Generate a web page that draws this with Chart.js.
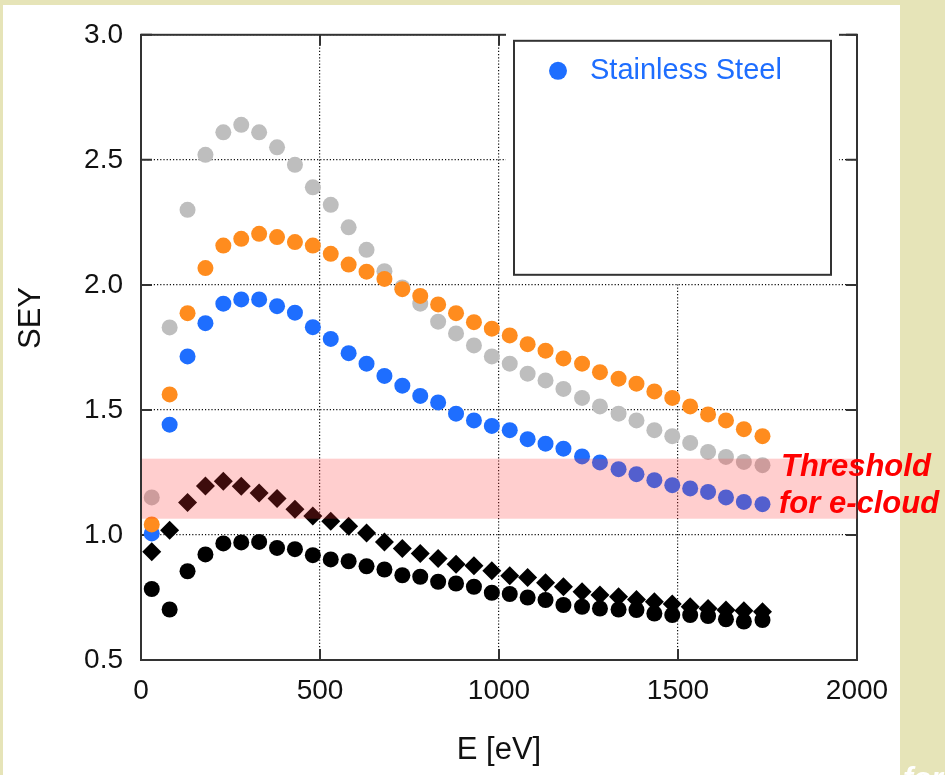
<!DOCTYPE html>
<html>
<head>
<meta charset="utf-8">
<title>SEY vs E</title>
<script src="https://cdn.jsdelivr.net/npm/chart.js@4.4.1/dist/chart.umd.min.js"></script>
<style>
  html, body { margin: 0; padding: 0; background: #e6e4b8; }
  #wrap { position: relative; width: 945px; height: 775px; overflow: hidden; }
  canvas { display: block; }
</style>
</head>
<body>
<div id="wrap"><canvas id="sey" width="945" height="775"></canvas></div>
<script>
/* ── Data ─────────────────────────────────────────── */
const energies = [30, 80, 130, 180, 230, 280, 330, 380, 430, 480, 530, 580, 630, 680, 730,
                  780, 830, 880, 930, 980, 1030, 1080, 1130, 1180, 1232, 1282, 1334, 1384,
                  1434, 1484, 1534, 1584, 1634, 1684, 1736];

const greySey = [1.15, 1.83, 2.30, 2.52, 2.61, 2.64, 2.61, 2.55, 2.48, 2.39, 2.32, 2.23, 2.14,
                 2.055, 1.99, 1.925, 1.853, 1.806, 1.758, 1.714, 1.685, 1.645, 1.618, 1.584,
                 1.548, 1.514, 1.485, 1.458, 1.419, 1.395, 1.368, 1.332, 1.312, 1.292, 1.279];

const orangeSey = [1.042, 1.562, 1.887, 2.067, 2.157, 2.184, 2.204, 2.191, 2.171, 2.157, 2.124,
                   2.081, 2.053, 2.024, 1.983, 1.956, 1.922, 1.887, 1.851, 1.825, 1.798, 1.763,
                   1.737, 1.706, 1.685, 1.651, 1.625, 1.605, 1.574, 1.548, 1.514, 1.482, 1.458,
                   1.423, 1.395];

const blueSey = [1.006, 1.441, 1.714, 1.847, 1.925, 1.942, 1.942, 1.915, 1.889, 1.831, 1.784,
                 1.727, 1.685, 1.636, 1.597, 1.556, 1.530, 1.485, 1.458, 1.436, 1.419, 1.383,
                 1.365, 1.345, 1.314, 1.290, 1.263, 1.243, 1.219, 1.199, 1.186, 1.172, 1.150,
                 1.132, 1.123];

const diamondSey = [0.933, 1.019, 1.130, 1.196, 1.215, 1.195, 1.168, 1.146, 1.103, 1.076, 1.055,
                    1.035, 1.008, 0.972, 0.946, 0.926, 0.906, 0.883, 0.877, 0.857, 0.837, 0.830,
                    0.809, 0.793, 0.773, 0.760, 0.753, 0.742, 0.733, 0.724, 0.713, 0.706, 0.700,
                    0.697, 0.693];

const blackSey = [0.784, 0.702, 0.855, 0.922, 0.966, 0.970, 0.972, 0.948, 0.943, 0.919, 0.902,
                  0.895, 0.875, 0.862, 0.839, 0.833, 0.813, 0.806, 0.793, 0.769, 0.764, 0.750,
                  0.740, 0.720, 0.713, 0.706, 0.702, 0.700, 0.686, 0.680, 0.680, 0.676, 0.663,
                  0.654, 0.660];

/* ── Axis + annotation values ─────────────────────── */
const xTicks = [0, 500, 1000, 1500, 2000];
const yTicks = [0.5, 1.0, 1.5, 2.0, 2.5, 3.0];
const bandLow = 1.065;
const bandHigh = 1.305;
const legendLabel = 'Stainless Steel';
const thresholdLines = ['Threshold', 'for e-cloud'];

const FONT = "'Liberation Sans', Arial, sans-serif";
const BLUE = '#1e6eff';

const pts = ys => energies.map((e, i) => ({ x: e, y: ys[i] }));

/* ── Decorations drawn around the datasets ────────── */
const decor = {
  id: 'decor',
  beforeDraw(chart) {
    const ctx = chart.ctx;
    ctx.save();
    ctx.fillStyle = '#e6e4b8';
    ctx.fillRect(0, 0, chart.width, chart.height);
    ctx.fillStyle = '#ffffff';
    ctx.fillRect(3, 5, 897, chart.height);
    ctx.restore();
  },
  beforeDatasetsDraw(chart) {
    const { ctx, chartArea: a, scales: { x, y } } = chart;
    ctx.save();
    // inward tick marks
    ctx.strokeStyle = '#333';
    ctx.lineWidth = 2;
    ctx.beginPath();
    yTicks.forEach(v => {
      const py = y.getPixelForValue(v);
      ctx.moveTo(a.left, py);  ctx.lineTo(a.left + 11, py);
      ctx.moveTo(a.right, py); ctx.lineTo(a.right - 11, py);
    });
    xTicks.forEach(v => {
      const px = x.getPixelForValue(v);
      ctx.moveTo(px, a.bottom); ctx.lineTo(px, a.bottom - 11);
      ctx.moveTo(px, a.top);    ctx.lineTo(px, a.top + 11);
    });
    ctx.stroke();
    // frame
    ctx.strokeRect(a.left, a.top, a.right - a.left, a.bottom - a.top);

    // legend box (white margin hides grid and top frame)
    const bx = a.left + 373, by = a.top + 6, bw = 317, bh = 234;
    ctx.fillStyle = '#fff';
    ctx.fillRect(bx - 8, by - 10, bw + 16, bh + 19);
    ctx.strokeStyle = '#333';
    ctx.lineWidth = 2;
    ctx.strokeRect(bx, by, bw, bh);
    ctx.fillStyle = BLUE;
    ctx.beginPath();
    ctx.arc(bx + 44, by + 30, 9, 0, Math.PI * 2);
    ctx.fill();
    ctx.font = '29px ' + FONT;
    ctx.textBaseline = 'middle';
    ctx.fillText(legendLabel, bx + 76, by + 30);
    ctx.restore();
  },
  afterDatasetsDraw(chart) {
    const { ctx, chartArea: a, scales: { y } } = chart;
    ctx.save();
    // threshold band, laid over the points
    const yTop = y.getPixelForValue(bandHigh);
    const yBot = y.getPixelForValue(bandLow);
    ctx.fillStyle = 'rgba(255,50,50,0.24)';
    ctx.fillRect(a.left + 1, yTop, a.right - a.left - 1, yBot - yTop);

    ctx.fillStyle = '#ff0000';
    ctx.font = 'italic bold 31px ' + FONT;
    ctx.textBaseline = 'alphabetic';
    ctx.fillText(thresholdLines[0], a.right - 76, yTop + 17);
    ctx.fillText(thresholdLines[1], a.right - 78, yBot - 6);

    // axis titles
    ctx.fillStyle = '#111';
    ctx.font = '31px ' + FONT;
    ctx.textAlign = 'center';
    ctx.textBaseline = 'middle';
    ctx.fillText('E [eV]', (a.left + a.right) / 2, 750);
    ctx.save();
    ctx.translate(31, 318);
    ctx.rotate(-Math.PI / 2);
    ctx.fillText('SEY', 0, 0);
    ctx.restore();

    // cut-off slide text at the bottom right
    ctx.fillStyle = '#ffffff';
    ctx.font = 'italic bold 30px ' + FONT;
    ctx.textAlign = 'left';
    ctx.textBaseline = 'alphabetic';
    ctx.fillText('for', 903, 788);
    ctx.restore();
  }
};

/* ── Chart ────────────────────────────────────────── */
new Chart(document.getElementById('sey'), {
  type: 'scatter',
  data: {
    datasets: [
      { label: 'orange',  data: pts(orangeSey),  backgroundColor: '#ff8c1e', pointRadius: 8 },
      { label: 'grey',    data: pts(greySey),    backgroundColor: '#bebebe', pointRadius: 8 },
      { label: legendLabel, data: pts(blueSey),  backgroundColor: BLUE,      pointRadius: 8 },
      { label: 'diamond', data: pts(diamondSey), backgroundColor: '#000', pointStyle: 'rectRot', pointRadius: 9.5 },
      { label: 'black',   data: pts(blackSey),   backgroundColor: '#000', pointRadius: 8 },
    ].map(d => Object.assign({ borderWidth: 0, pointHoverRadius: d.pointRadius }, d))
  },
  options: {
    responsive: false,
    animation: false,
    events: [],
    layout: { padding: { left: 0, top: 34, right: 88, bottom: 0 } },
    plugins: { legend: { display: false }, tooltip: { enabled: false } },
    scales: {
      x: {
        type: 'linear', min: 0, max: 2000,
        afterBuildTicks: s => { s.ticks = xTicks.map(v => ({ value: v })); },
        afterFit: s => { s.height = 115; },
        grid: { color: '#111', lineWidth: 1.2, drawTicks: false },
        border: { display: false, dash: [1.2, 2] },
        ticks: { color: '#111', padding: 14, font: { family: FONT, size: 28 },
                 callback: v => String(v) }
      },
      y: {
        type: 'linear', min: 0.5, max: 3.0,
        afterBuildTicks: s => { s.ticks = yTicks.map(v => ({ value: v })); },
        afterFit: s => { s.width = 141; },
        grid: { color: '#111', lineWidth: 1.2, drawTicks: false },
        border: { display: false, dash: [1.2, 2] },
        ticks: { color: '#111', padding: 18, font: { family: FONT, size: 28 },
                 callback: v => v.toFixed(1) }
      }
    }
  },
  plugins: [decor]
});
</script>
</body>
</html>
